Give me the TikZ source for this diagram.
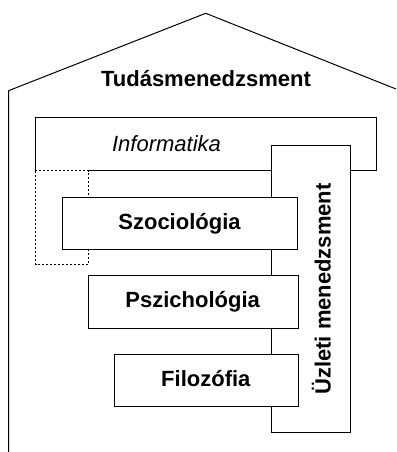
\documentclass[tikz,border=0pt]{standalone}
\usepackage{fontspec}
\setmainfont{Liberation Sans}
\begin{document}
\begin{tikzpicture}[x=1pt,y=-1pt,line width=1pt,
  box/.style={draw=black,fill=white,line width=1pt,inner sep=0pt,anchor=north west},
  lbl/.style={inner sep=0pt,anchor=base,font=\fontsize{22}{26}\selectfont\bfseries},
  dotline/.style={dash pattern=on 2pt off 2pt,line width=1pt}]
\useasboundingbox (0,0) rectangle (396,452);
% house outline
\draw (8.5,452) -- (8.5,90.7) -- (205.7,13.3) -- (396,89);
\node[lbl] (tud) at (206,86) {Tudásmenedzsment};
% Informatika
\draw (35.7,170.5) -- (35.7,117.8) -- (376.5,117.8) -- (376.5,170.5) -- (88.3,170.5);
\draw[dotline] (35.7,170.5) -- (35.7,264.3) -- (88.3,264.3) -- (88.3,170.5) -- cycle;
\node[lbl,font=\fontsize{22}{26}\selectfont\itshape] (inf) at (166.5,151.7) {Informatika};
% Uzleti menedzsment
\node[box,minimum width=78.5pt,minimum height=287.3pt] (uzl) at (271.3,145) {};
\node[lbl,rotate=90] (uzlt) at (330.5,289) {Üzleti menedzsment};
% boxes
\node[box,minimum width=235.6pt,minimum height=51.7pt] (szoc) at (61.7,197.3) {};
\node[lbl] (szoct) at (179.5,229.5) {Szociológia};
\node[box,minimum width=210pt,minimum height=52.7pt] (psz) at (87.7,275) {};
\node[lbl] (pszt) at (192.7,307.7) {Pszichológia};
\node[box,minimum width=183.7pt,minimum height=52.3pt] (fil) at (114,353.7) {};
\node[lbl] (filt) at (205.8,386.7) {Filozófia};
\end{tikzpicture}
\end{document}
